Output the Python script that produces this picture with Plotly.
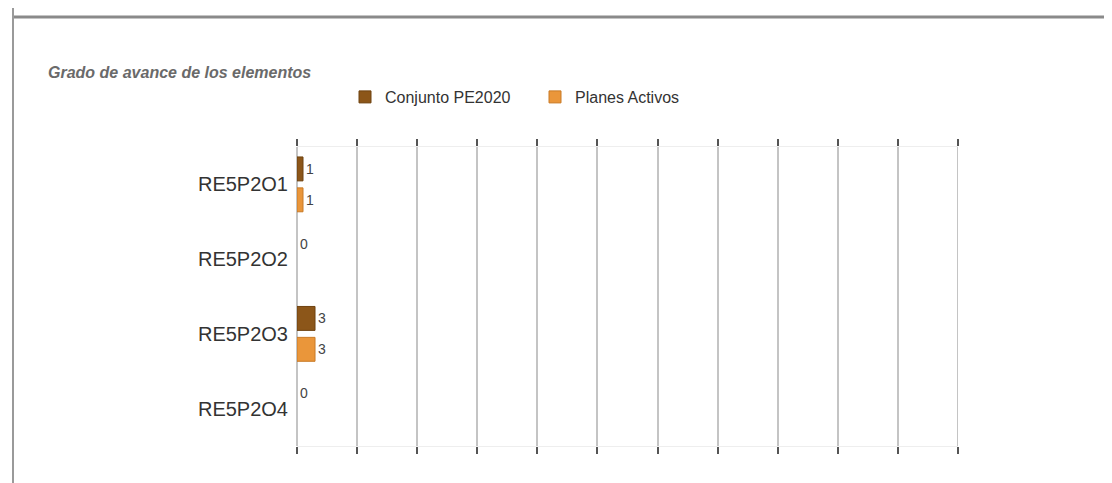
import plotly.graph_objects as go

# data
categorias = ["RE5P2O1", "RE5P2O2", "RE5P2O3", "RE5P2O4"]
conjunto_pe2020 = [1, 0, 3, 0]
planes_activos = [1, None, 3, None]

W, H = 1112, 483
OFF = 8  # page body margin
L, R, T, B = 297 - OFF, 154 + OFF, 147 - OFF, 37 + OFF
pw, ph = W - L - R, H - T - B


def px_x(x):
    return (x - OFF - L) / pw


def px_y(y):
    return (H - B - (y - OFF)) / ph


grid = "#c4c4c4"

fig = go.Figure()
fig.add_trace(go.Bar(
    y=categorias, x=conjunto_pe2020, name="Conjunto PE2020", orientation="h",
    marker=dict(color="#8c5619",
                line=dict(color="#6e4210", width=[1 if v else 0 for v in conjunto_pe2020])),
    text=conjunto_pe2020, textposition="outside", cliponaxis=False, constraintext="none",
    textfont=dict(size=14, color="#444444"),
))
fig.add_trace(go.Bar(
    y=categorias, x=planes_activos, name="Planes Activos", orientation="h",
    marker=dict(color="#ea963a", line=dict(color="#c97a26", width=1)),
    text=planes_activos, textposition="outside", cliponaxis=False, constraintext="none",
    textfont=dict(size=14, color="#444444"),
))

# last grid line at the right edge of the axis
fig.add_shape(type="line", xref="x", yref="paper", x0=110, x1=110, y0=0, y1=1,
              line=dict(color=grid, width=2), layer="below")

# frame of the page
fig.add_shape(type="line", xref="paper", yref="paper",
              x0=px_x(12), x1=px_x(W + 20), y0=px_y(17), y1=px_y(17),
              line=dict(color="#8a8a8a", width=3))
fig.add_shape(type="line", xref="paper", yref="paper",
              x0=px_x(13), x1=px_x(13), y0=px_y(-5), y1=px_y(H + 20),
              line=dict(color="#9a9a9a", width=2))

fig.update_layout(
    width=W, height=H,
    margin=dict(l=L, r=R, t=T, b=B),
    paper_bgcolor="white", plot_bgcolor="white",
    font=dict(family="Liberation Sans, Arial, sans-serif", color="#333333"),
    barmode="group", bargap=0.173, bargroupgap=0.226,
    title=dict(text="Grado de avance de los elementos", xref="container", yref="container",
               x=(48 - OFF) / W, xanchor="left", y=1 - (72 - OFF) / H, yanchor="middle",
               font=dict(size=16, color="#6a6a6a", style="italic", weight="bold")),
    legend=dict(orientation="h", x=px_x(345), xanchor="left", y=px_y(97), yanchor="middle",
                font=dict(size=16, color="#333333"), entrywidth=145, entrywidthmode="pixels",
                itemclick=False, traceorder="normal"),
    showlegend=True,
)
fig.update_xaxes(range=[0, 110], dtick=10, showticklabels=False,
                 showgrid=True, gridcolor=grid, gridwidth=2,
                 zeroline=True, zerolinecolor=grid, zerolinewidth=2,
                 showline=True, linecolor="#eeeeee", linewidth=1, mirror="ticks",
                 ticks="outside", ticklen=7, tickwidth=2, tickcolor="#555555")
fig.update_yaxes(autorange="reversed", showgrid=False, zeroline=False, showline=False,
                 tickfont=dict(size=20, color="#333333"), ticklabelstandoff=8)

fig.write_html("out.html")
